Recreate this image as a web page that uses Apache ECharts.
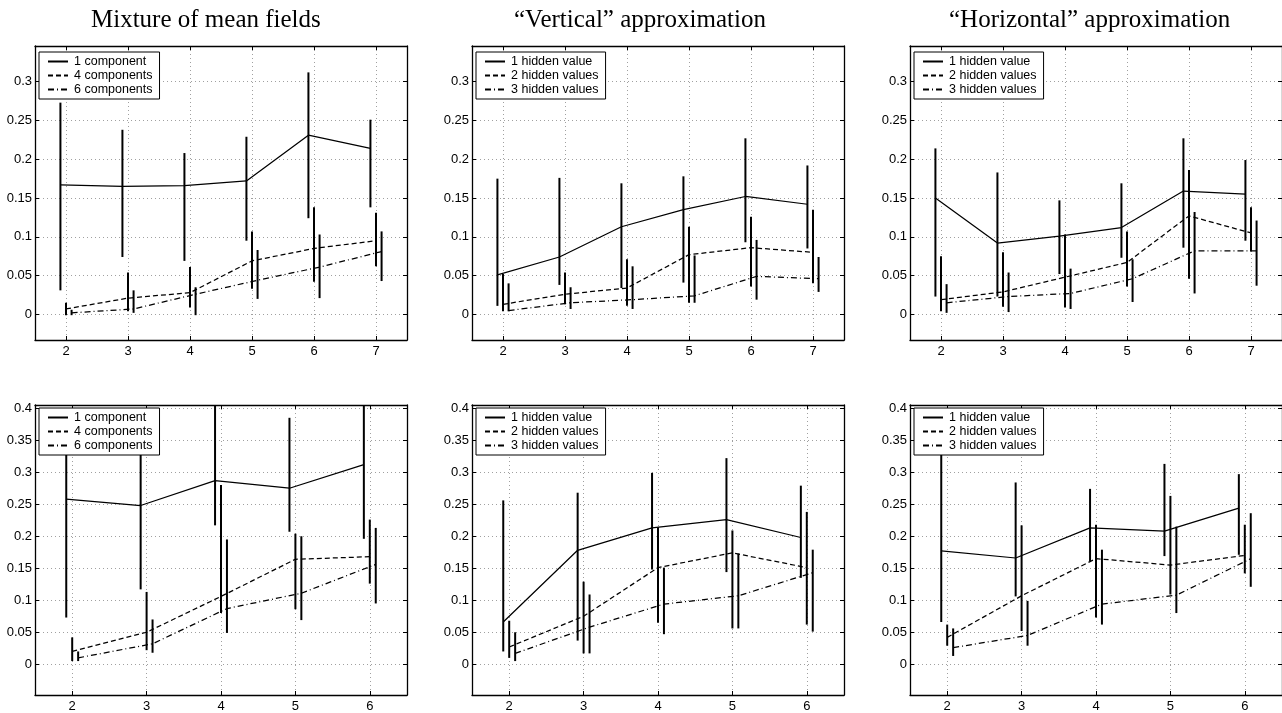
<!DOCTYPE html>
<html>
<head>
<meta charset="utf-8">
<title>mean fields</title>
<script src="https://cdn.jsdelivr.net/npm/echarts@6/dist/echarts.min.js"></script>
<style>
  html, body { margin: 0; padding: 0; background: #fff; }
  #chart { width: 1282px; height: 713px; }
</style>
</head>
<body>
<div id="chart"></div>
<script>
// x positions (number of components / hidden values)
const xTop = [2, 3, 4, 5, 6, 7]
const xBot = [2, 3, 4, 5, 6]

// tick labels
const yTicksTop = [0, 0.05, 0.1, 0.15, 0.2, 0.25, 0.3]
const yTicksBot = [0, 0.05, 0.1, 0.15, 0.2, 0.25, 0.3, 0.35, 0.4]

const titles = ['Mixture of mean fields', '\u201cVertical\u201d approximation', '\u201cHorizontal\u201d approximation']
const mixNames = ['1 component', '4 components', '6 components']
const hidNames = ['1 hidden value', '2 hidden values', '3 hidden values']

// each array: [solid, dashed, dash-dot]
// --- top row ---
const mixTopMean = [[0.167, 0.165, 0.166, 0.172, 0.231, 0.214], [0.007, 0.021, 0.028, 0.069, 0.085, 0.095], [0.002, 0.007, 0.026, 0.044, 0.061, 0.081]]
const mixTopLo = [[0.031, 0.074, 0.069, 0.095, 0.124, 0.138], [-0.001, 0.004, 0.009, 0.033, 0.042, 0.062], [-0.001, 0.002, -0.001, 0.020, 0.021, 0.043]]
const mixTopHi = [[0.273, 0.238, 0.208, 0.229, 0.312, 0.251], [0.015, 0.054, 0.061, 0.107, 0.138, 0.131], [0.006, 0.031, 0.035, 0.083, 0.103, 0.107]]

const vertTopMean = [[0.051, 0.074, 0.113, 0.135, 0.152, 0.142], [0.013, 0.026, 0.034, 0.077, 0.086, 0.080], [0.005, 0.015, 0.019, 0.024, 0.049, 0.046]]
const vertTopLo = [[0.011, 0.038, 0.034, 0.041, 0.093, 0.085], [0.004, 0.013, 0.011, 0.015, 0.036, 0.040], [0.004, 0.007, 0.007, 0.015, 0.019, 0.029]]
const vertTopHi = [[0.175, 0.176, 0.169, 0.178, 0.227, 0.192], [0.052, 0.054, 0.071, 0.113, 0.126, 0.135], [0.040, 0.035, 0.062, 0.076, 0.096, 0.074]]

const horTopMean = [[0.150, 0.092, 0.101, 0.112, 0.159, 0.155], [0.019, 0.029, 0.048, 0.067, 0.127, 0.105], [0.015, 0.023, 0.027, 0.046, 0.082, 0.082]]
const horTopLo = [[0.023, 0.023, 0.052, 0.073, 0.086, 0.095], [0.004, 0.010, 0.009, 0.036, 0.046, 0.081], [0.002, 0.003, 0.007, 0.016, 0.027, 0.037]]
const horTopHi = [[0.214, 0.183, 0.147, 0.169, 0.227, 0.199], [0.075, 0.080, 0.103, 0.107, 0.186, 0.138], [0.039, 0.054, 0.059, 0.071, 0.132, 0.121]]

// --- bottom row ---
const mixBotMean = [[0.258, 0.248, 0.287, 0.275, 0.312], [0.020, 0.050, 0.106, 0.164, 0.168], [0.010, 0.032, 0.087, 0.111, 0.156]]
const mixBotLo = [[0.073, 0.117, 0.217, 0.207, 0.196], [0.005, 0.022, 0.080, 0.086, 0.126], [0.005, 0.018, 0.049, 0.069, 0.095]]
const mixBotHi = [[0.40, 0.38, 0.42, 0.385, 0.43], [0.042, 0.113, 0.280, 0.204, 0.226], [0.020, 0.070, 0.195, 0.200, 0.213]]

const vertBotMean = [[0.066, 0.178, 0.213, 0.226, 0.198], [0.027, 0.075, 0.151, 0.174, 0.151], [0.017, 0.058, 0.094, 0.107, 0.143]]
const vertBotLo = [[0.020, 0.037, 0.148, 0.144, 0.135], [0.010, 0.017, 0.065, 0.056, 0.062], [0.005, 0.017, 0.047, 0.056, 0.051]]
const vertBotHi = [[0.256, 0.268, 0.299, 0.322, 0.279], [0.068, 0.129, 0.214, 0.209, 0.238], [0.050, 0.109, 0.151, 0.173, 0.179]]

const horBotMean = [[0.177, 0.166, 0.213, 0.208, 0.244], [0.042, 0.107, 0.165, 0.155, 0.170], [0.026, 0.045, 0.094, 0.108, 0.165]]
const horBotLo = [[0.066, 0.106, 0.161, 0.169, 0.171], [0.029, 0.052, 0.073, 0.109, 0.142], [0.013, 0.029, 0.062, 0.080, 0.121]]
const horBotHi = [[0.40, 0.284, 0.274, 0.313, 0.297], [0.062, 0.217, 0.218, 0.263, 0.218], [0.056, 0.099, 0.179, 0.215, 0.236]]

window.onload = function () {
    const chart = echarts.init(document.getElementById('chart'), null, { renderer: 'canvas' })

    const sans = 'Liberation Sans, Arial, Helvetica, sans-serif'
    const lineTypes = ['solid', [5, 3], [6, 3, 1, 3]]

    // 面板设置
    const panels = [
        { x: xTop, mean: mixTopMean, lo: mixTopLo, hi: mixTopHi, names: mixNames, row: 0, col: 0 },
        { x: xTop, mean: vertTopMean, lo: vertTopLo, hi: vertTopHi, names: hidNames, row: 0, col: 1 },
        { x: xTop, mean: horTopMean, lo: horTopLo, hi: horTopHi, names: hidNames, row: 0, col: 2 },
        { x: xBot, mean: mixBotMean, lo: mixBotLo, hi: mixBotHi, names: mixNames, row: 1, col: 0 },
        { x: xBot, mean: vertBotMean, lo: vertBotLo, hi: vertBotHi, names: hidNames, row: 1, col: 1 },
        { x: xBot, mean: horBotMean, lo: horBotLo, hi: horBotHi, names: hidNames, row: 1, col: 2 }
    ]
    const gridLeft = [35, 472, 910]
    const gridTop = [46, 405]
    const gridHeight = [294, 291]
    const yRange = [[-0.033, 0.346], [-0.048, 0.405]]
    const offset = [0.09, 0.08]

    const grid = [], xAxis = [], yAxis = [], series = [], legend = []

    // 误差线
    function renderBar(params, api) {
        const p1 = api.coord([api.value(0), api.value(1)])
        const p2 = api.coord([api.value(0), api.value(2)])
        return {
            type: 'line',
            shape: { x1: p1[0], y1: p1[1], x2: p2[0], y2: p2[1] },
            style: { stroke: '#000', lineWidth: 2 }
        }
    }

    panels.forEach((p, i) => {
        grid.push({ left: gridLeft[p.col], top: gridTop[p.row], width: 372, height: gridHeight[p.row] })

        const xMax = p.x[p.x.length - 1] + 0.5
        const yTicks = p.row === 0 ? yTicksTop : yTicksBot
        const tick = { inside: true, length: 4, lineStyle: { color: '#000', width: 1 } }
        const axisLine = { show: true, onZero: false, lineStyle: { color: '#000', width: 1.3 } }
        const dotted = { show: true, lineStyle: { color: '#a0a0a0', width: 1, type: [1, 3] } }

        // 下方 x 轴
        xAxis.push({
            type: 'value', gridIndex: i, min: 1.5, max: xMax, position: 'bottom',
            axisLine: axisLine,
            axisTick: Object.assign({ customValues: p.x }, tick),
            axisLabel: { customValues: p.x, color: '#000', fontFamily: sans, fontSize: 13, margin: 5 },
            splitLine: dotted
        })
        // 上方 x 轴（只画刻度）
        xAxis.push({
            type: 'value', gridIndex: i, min: 1.5, max: xMax, position: 'top',
            axisLine: axisLine,
            axisTick: Object.assign({ customValues: p.x }, tick),
            axisLabel: { show: false }, splitLine: { show: false }
        })
        // 左侧 y 轴
        yAxis.push({
            type: 'value', gridIndex: i, min: yRange[p.row][0], max: yRange[p.row][1], position: 'left',
            axisLine: axisLine,
            axisTick: Object.assign({ customValues: yTicks }, tick),
            axisLabel: { customValues: yTicks, color: '#000', fontFamily: sans, fontSize: 13, margin: 3 },
            splitLine: dotted
        })
        // 右侧 y 轴
        yAxis.push({
            type: 'value', gridIndex: i, min: yRange[p.row][0], max: yRange[p.row][1], position: 'right',
            axisLine: axisLine,
            axisTick: Object.assign({ customValues: yTicks }, tick),
            axisLabel: { show: false }, splitLine: { show: false }
        })

        for (let s = 0; s < 3; s++) {
            const off = (s - 1) * offset[p.row]
            const lineData = p.x.map((v, k) => [v + off, p.mean[s][k]])
            const barData = p.x.map((v, k) => [v + off, p.lo[s][k], p.hi[s][k]])

            series.push({
                type: 'line', name: p.names[s],
                xAxisIndex: i * 2, yAxisIndex: i * 2,
                data: lineData, symbol: 'none', color: '#000',
                lineStyle: { color: '#000', width: 1.25, type: lineTypes[s] },
                silent: true, z: 3
            })
            series.push({
                type: 'custom', name: 'err' + i + s,
                xAxisIndex: i * 2, yAxisIndex: i * 2,
                data: barData, renderItem: renderBar, clip: true,
                encode: { x: 0, y: [1, 2] },
                silent: true, z: 2
            })
        }

        legend.push({
            data: p.names, orient: 'vertical',
            left: gridLeft[p.col] + 4, top: gridTop[p.row] + (p.row === 0 ? 6 : 3),
            backgroundColor: '#fff', borderColor: '#000', borderWidth: 1, borderRadius: 0,
            padding: [3, 7, 3, 8], itemWidth: 20, itemHeight: 12, itemGap: 1,
            itemStyle: { opacity: 0 },
            textStyle: { color: '#000', fontFamily: sans, fontSize: 12.5, padding: [0, 0, 0, 1] },
            selectedMode: false, z: 10
        })
    })

    // 标题位置
    const titleLeft = [86, 509, 944]
    const title = titles.map((t, i) => ({
        text: t, left: titleLeft[i], top: 3,
        textStyle: { fontFamily: 'Liberation Serif, Times New Roman, serif', fontSize: 25, fontWeight: 'normal', color: '#000' }
    }))

    chart.setOption({
        animation: false,
        backgroundColor: '#fff',
        title: title,
        legend: legend,
        grid: grid,
        xAxis: xAxis,
        yAxis: yAxis,
        series: series
    })
}
</script>
</body>
</html>
